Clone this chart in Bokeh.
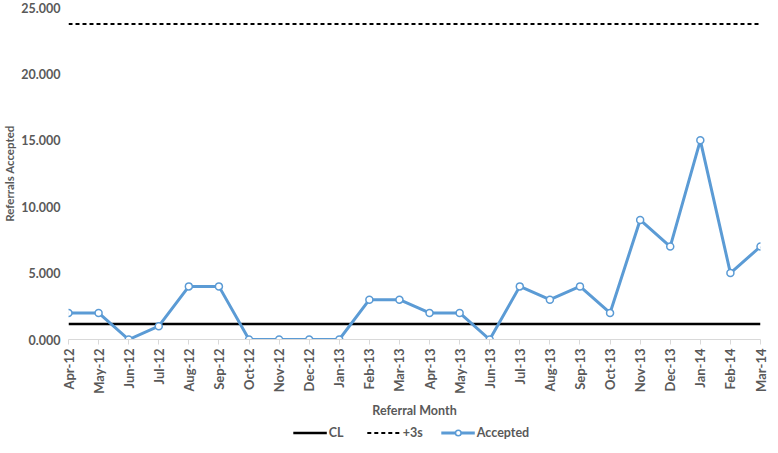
from bokeh.plotting import figure
from bokeh.layouts import column
from bokeh.models import Legend, LegendItem, NumeralTickFormatter, FixedTicker, Range1d
from bokeh.embed import file_html
from bokeh.resources import INLINE
import math

months = ["Apr-12", "May-12", "Jun-12", "Jul-12", "Aug-12", "Sep-12", "Oct-12", "Nov-12",
          "Dec-12", "Jan-13", "Feb-13", "Mar-13", "Apr-13", "May-13", "Jun-13", "Jul-13",
          "Aug-13", "Sep-13", "Oct-13", "Nov-13", "Dec-13", "Jan-14", "Feb-14", "Mar-14"]
accepted = [2, 2, 0, 1, 4, 4, 0, 0, 0, 0, 3, 3, 2, 2, 0, 4, 3, 4, 2, 9, 7, 15, 5, 7]
cl_value = 1.17
ucl_value = 23.75
y_ticks = [0, 5, 10, 15, 20, 25]
series_names = ["CL", "+3s", "Accepted"]

xs = list(range(len(months)))
cl = [cl_value] * len(months)
ucl = [ucl_value] * len(months)

FONT = "Lato"
GRAY = "#595959"
BLUE = "#5B9BD5"

p = figure(frame_width=692, frame_height=332, output_backend="svg", toolbar_location=None,
           x_range=Range1d(0, len(months) - 1), y_range=Range1d(0, 25),
           min_border_left=4, min_border_right=8, min_border_top=7, min_border_bottom=0)
p.outline_line_color = None
p.xgrid.grid_line_color = None
p.ygrid.grid_line_color = None

p.line(xs, cl, line_color="black", line_width=2.5)
p.line(xs, ucl, line_color="black", line_width=2, line_dash="4 3")
p.line(xs, accepted, line_color=BLUE, line_width=3)
p.scatter(xs, accepted, size=7, fill_color="white", line_color=BLUE, line_width=1.5)

xa = p.xaxis[0]
xa.ticker = FixedTicker(ticks=xs)
xa.major_label_overrides = {i: m for i, m in enumerate(months)}
xa.major_label_orientation = math.pi / 2
xa.major_label_text_font = FONT
xa.major_label_text_font_style = "bold"
xa.major_label_text_font_size = "13px"
xa.major_label_text_color = GRAY
xa.major_label_standoff = 4
xa.axis_line_color = "#d9d9d9"
xa.major_tick_line_color = "#d9d9d9"
xa.major_tick_in = 0
xa.major_tick_out = 5
xa.minor_tick_line_color = None
xa.axis_label = "Referral Month"
xa.axis_label_text_font = FONT
xa.axis_label_text_font_style = "bold"
xa.axis_label_text_font_size = "12.5px"
xa.axis_label_text_color = GRAY
xa.axis_label_standoff = 6

ya = p.yaxis[0]
ya.ticker = FixedTicker(ticks=y_ticks)
ya.formatter = NumeralTickFormatter(format="0.000")
ya.major_label_text_font = FONT
ya.major_label_text_font_style = "bold"
ya.major_label_text_font_size = "12.5px"
ya.major_label_text_color = GRAY
ya.axis_line_color = None
ya.major_tick_line_color = None
ya.major_tick_out = 0
ya.major_tick_in = 0
ya.minor_tick_line_color = None
ya.major_label_standoff = 8
ya.axis_label = "Referrals Accepted"
ya.axis_label_text_font = FONT
ya.axis_label_text_font_style = "bold"
ya.axis_label_text_font_size = "11.5px"
ya.axis_label_text_color = GRAY
ya.axis_label_standoff = 2

# legend strip below the chart (series drawn out of view, only the legend shows)
lg = figure(width=762, height=24, output_backend="svg", toolbar_location=None,
            x_range=Range1d(-200, -199), y_range=Range1d(-200, -199),
            min_border_left=0, min_border_right=0, min_border_top=0, min_border_bottom=0)
lg.axis.visible = False
lg.xgrid.grid_line_color = None
lg.ygrid.grid_line_color = None
lg.outline_line_color = None
g_cl = lg.line(xs, cl, line_color="black", line_width=2.5)
g_ucl = lg.line(xs, ucl, line_color="black", line_width=2, line_dash="4 3")
g_acc = lg.line(xs, accepted, line_color=BLUE, line_width=3)
g_pts = lg.scatter(xs, accepted, size=7, fill_color="white", line_color=BLUE, line_width=1.5)

legend = Legend(items=[
    LegendItem(label=series_names[0], renderers=[g_cl]),
    LegendItem(label=series_names[1], renderers=[g_ucl]),
    LegendItem(label=series_names[2], renderers=[g_acc, g_pts]),
], orientation="horizontal", location="center")
legend.label_text_font = FONT
legend.label_text_font_style = "bold"
legend.label_text_font_size = "12.5px"
legend.label_text_color = GRAY
legend.border_line_color = None
legend.background_fill_alpha = 0
legend.glyph_width = 34
legend.glyph_height = 14
legend.label_height = 14
legend.label_standoff = 2
legend.spacing = 18
legend.padding = 0
legend.margin = 0
lg.add_layout(legend, "center")

layout = column(p, lg)
open("out.html", "w").write(file_html(layout, INLINE))
